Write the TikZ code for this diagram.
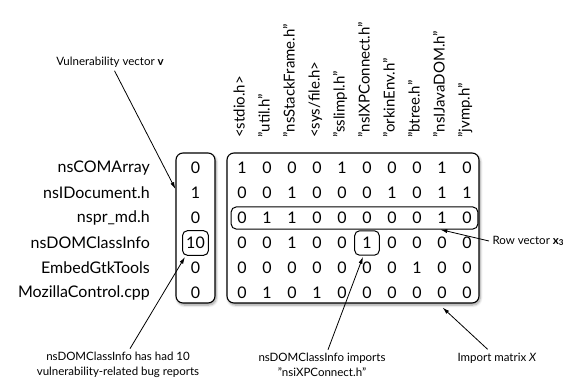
\documentclass[tikz,border=0pt]{standalone}
\usepackage{fontspec}
\setmainfont{Lato}
\usetikzlibrary{shadows.blur,fit,arrows.meta}

\tikzset{
  cell/.style={inner sep=0pt, font=\fontsize{16}{18}\selectfont},
  rowname/.style={anchor=east, inner sep=0pt, font=\fontsize{16}{18}\selectfont},
  colname/.style={anchor=mid west, rotate=90, inner sep=0pt, font=\fontsize{15}{18}\selectfont},
  bigbox/.style={draw, line width=1.1pt, rounded corners=7pt, fill=white,
    blur shadow={shadow xshift=1.2pt, shadow yshift=-2pt, shadow blur steps=6, shadow blur radius=2.5pt}},
  hlbox/.style={draw, line width=1pt, rounded corners=5pt},
  note/.style={font=\fontsize{11.5}{15}\selectfont, align=center},
  ptr/.style={-{Latex[length=7pt,width=4pt]}, line width=0.8pt}
}

\begin{document}
\begin{tikzpicture}[x=1pt, y=-1pt]
\useasboundingbox (0,0) rectangle (574,386);

% the two boxes
\node[bigbox, minimum width=39pt, minimum height=150pt] (vec) at (195.5,228) {};
\node[bigbox, minimum width=252pt, minimum height=150pt] (mat) at (353,228) {};

% file names
\foreach \name [count=\r] in {nsCOMArray, nsIDocument.h, nspr\_md.h, nsDOMClassInfo, EmbedGtkTools, MozillaControl.cpp}
  \node[rowname] (f-\r) at (150,143+25*\r) {\name};

% imported headers
\foreach \hdr [count=\c] in {<stdio.h>, "util.h", "nsStackFrame.h", <sys/file.h>, "sslimpl.h", "nsIXPConnect.h", "orkinEnv.h", "btree.h", "nsIJavaDOM.h", "jvmp.h"}
  \node[colname] (h-\c) at (217+25*\c,138) {\hdr};

% vulnerability counts
\foreach \v [count=\r] in {0,1,0,10,0,0}
  \node[cell] (v-\r) at (195.5,143+25*\r) {\v};

% import matrix
\foreach \row [count=\r] in {{1,0,0,0,1,0,0,0,1,0}, {0,0,1,0,0,0,1,0,1,1}, {0,1,1,0,0,0,0,0,1,0},
    {0,0,1,0,0,1,0,0,0,0}, {0,0,0,0,0,0,0,1,0,0}, {0,1,0,1,0,0,0,0,0,0}}
  \foreach \v [count=\c] in \row
    \node[cell] (m-\r-\c) at (217+25*\c,143+25*\r) {\v};

% highlights
\node[hlbox, fit=(m-3-1)(m-3-10), inner xsep=6pt, inner ysep=5pt] (rowvec) {};
\node[hlbox, fit=(v-4), inner xsep=3.5pt, inner ysep=6.3pt] (tenbox) {};
\node[hlbox, fit=(m-4-6), inner xsep=7.5pt, inner ysep=6.3pt] (onebox) {};

% annotations
\node[note] (vnote) at (110,62) {Vulnerability vector \textbf{v}};
\node[note, anchor=west] (rnote) at (489,241) {Row vector \textbf{x\textsubscript{3}}};
\node[note] (xnote) at (497,358) {Import matrix \textit{X}};
\node[note] (inote) at (322,365) {nsDOMClassInfo imports\\"nsiXPConnect.h"};
\node[note] (bnote) at (118,365) {nsDOMClassInfo has had 10\\vulnerability-related bug reports};

\draw[ptr] (vnote) -- (vec);
\draw[ptr] (rnote.west) -- ([xshift=-38pt]rowvec.south east);
\draw[ptr] (xnote) -- ([xshift=-37pt,yshift=-4pt]mat.south east);
\draw[ptr] ([xshift=6pt]inote.north) -- ([xshift=-4pt,yshift=-1pt]onebox.south);
\draw[ptr] ([xshift=12pt]bnote.north) -- ([xshift=3pt,yshift=-1pt]tenbox.south west);
\end{tikzpicture}
\end{document}
